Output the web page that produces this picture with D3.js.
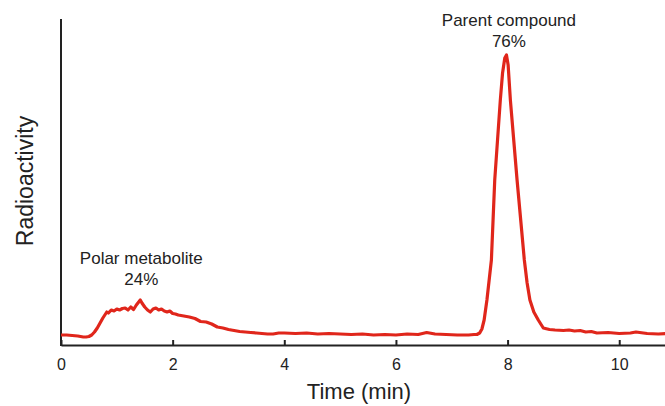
<!DOCTYPE html>
<html>
<head>
<meta charset="utf-8">
<script src="https://cdn.jsdelivr.net/npm/d3@7"></script>
<style>
  body { margin: 0; background: #fff; }
  text { font-family: "Liberation Sans", Arial, sans-serif; fill: #222; }
</style>
</head>
<body>
<div id="chart"></div>
<script>
// chromatogram trace (time in min, radioactivity in arbitrary units)
var time = [0, 0.1, 0.2, 0.3, 0.4, 0.45, 0.5, 0.55, 0.6, 0.65, 0.7, 0.75, 0.82, 0.85, 0.9, 0.95,
  1.0, 1.05, 1.1, 1.15, 1.2, 1.25, 1.3, 1.35, 1.42, 1.45, 1.5, 1.55, 1.6, 1.65, 1.7, 1.75,
  1.8, 1.85, 1.9, 1.95, 2.0, 2.05, 2.1, 2.2, 2.3, 2.4, 2.5, 2.6, 2.7, 2.75, 2.8, 2.9,
  3.0, 3.1, 3.2, 3.3, 3.4, 3.5, 3.6, 3.7, 3.8, 3.9, 4.0, 4.2, 4.4, 4.6, 4.8, 5.0,
  5.2, 5.4, 5.6, 5.8, 6.0, 6.2, 6.4, 6.55, 6.7, 6.9, 7.1, 7.3, 7.4, 7.45, 7.5, 7.54,
  7.58, 7.63, 7.67, 7.71, 7.74, 7.77, 7.82, 7.87, 7.91, 7.95, 7.98, 8.01, 8.05, 8.11, 8.17, 8.24,
  8.3, 8.35, 8.4, 8.47, 8.55, 8.64, 8.75, 8.85, 9.0, 9.1, 9.2, 9.3, 9.4, 9.5, 9.6, 9.8,
  10.0, 10.2, 10.3, 10.5, 10.7, 10.85]
var signal = [10, 10, 9.5, 9, 8, 8, 8.5, 10, 13, 17, 22, 27, 33, 32, 35, 34,
  36, 35, 36.5, 37, 35, 38, 35.5, 40, 45, 42, 38, 35, 33, 36, 37, 35,
  36, 34, 33, 34, 31.5, 31, 30, 29, 28, 26.5, 23.5, 23, 21, 19.5, 18, 17,
  15.5, 14.5, 13.5, 13, 12.5, 12, 11.5, 11, 11, 12, 12, 11.5, 12, 11, 11.5, 11,
  10.5, 11, 10, 10.5, 10, 11, 10.5, 12.5, 11, 10.5, 10, 10, 10.5, 10.5, 12, 16,
  25, 45, 65, 85, 125, 165, 205, 245, 272, 287, 290, 280, 245, 205, 165, 122,
  85, 62, 45, 33, 25, 17, 15.5, 15, 14.5, 15, 14, 14.5, 13, 13.5, 12, 12.5,
  11.5, 12, 13, 11.5, 11, 11.5]
var xTicks = [0, 2, 4, 6, 8, 10]
var peakLabels = [
  {t: 1.42, lines: ["Polar metabolite", "24%"]},
  {t: 7.97, lines: ["Parent compound", "76%"]}
]

var width = 665, height = 406
var data = time.map(function(t, i) { return {t: t, v: signal[i]} })

var svg = d3.select("#chart").append("svg")
  .attr("width", width)
  .attr("height", height)

var x = d3.scaleLinear().domain([0, 10.82]).range([61, 665])
var y = d3.scaleLinear().domain([0, 326]).range([345, 19])

// x axis, ticks point inward
var xAxis = svg.append("g")
  .attr("transform", "translate(0,345)")
  .call(d3.axisBottom(x).tickValues(xTicks).tickSizeInner(-5).tickSizeOuter(0).tickPadding(14))
xAxis.select(".domain").attr("stroke", "#222").attr("stroke-width", 2)
xAxis.selectAll(".tick line").attr("stroke", "#222").attr("stroke-width", 2)
xAxis.selectAll(".tick text")
  .style("font-size", "16px")
  .attr("fill", "#222")
  .style("font-family", "Liberation Sans, Arial, sans-serif")

// y axis: just the line
svg.append("line")
  .attr("x1", x(0)).attr("x2", x(0))
  .attr("y1", y(326)).attr("y2", y(0) + 1)
  .attr("stroke", "#222")
  .attr("stroke-width", 2)

// trace
var line = d3.line()
  .x(function(d) { return x(d.t) })
  .y(function(d) { return y(d.v) })
  .curve(d3.curveLinear)

svg.append("path")
  .datum(data)
  .attr("d", line)
  .attr("fill", "none")
  .attr("stroke", "#e0261b")
  .attr("stroke-width", 3.2)
  .attr("stroke-linejoin", "round")

// axis titles
svg.append("text")
  .attr("x", 359).attr("y", 399)
  .attr("text-anchor", "middle")
  .style("font-size", "22px")
  .text("Time (min)")

svg.append("text")
  .attr("transform", "translate(33,181) rotate(-90)")
  .attr("text-anchor", "middle")
  .style("font-size", "23px")
  .text("Radioactivity")

// peak annotations
var labelY = [[264, 285], [26, 47]]
peakLabels.forEach(function(p, i) {
  p.lines.forEach(function(s, j) {
    svg.append("text")
      .attr("x", x(p.t) + (i == 0 ? 1 : 3))
      .attr("y", labelY[i][j])
      .attr("text-anchor", "middle")
      .style("font-size", "17px")
      .text(s)
  })
})
</script>
</body>
</html>
